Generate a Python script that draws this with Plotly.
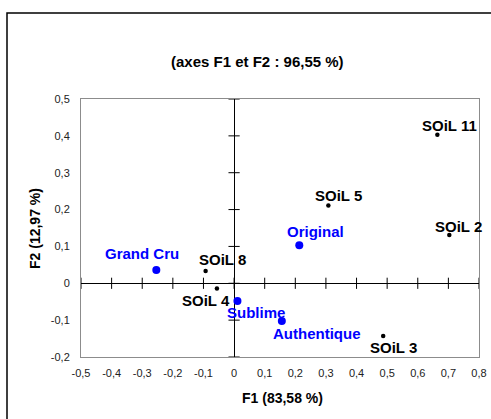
import plotly.graph_objects as go

# Observations (black)
soil_names = ["SOiL 11", "SOiL 5", "SOiL 2", "SOiL 8", "SOiL 4", "SOiL 3"]
soil_f1 = [0.664, 0.308, 0.703, -0.093, -0.056, 0.487]
soil_f2 = [0.403, 0.211, 0.131, 0.033, -0.014, -0.143]

# Products (blue)
prod_names = ["Original", "Grand Cru", "Sublime", "Authentique"]
prod_f1 = [0.213, -0.254, 0.011, 0.156]
prod_f2 = [0.103, 0.036, -0.048, -0.102]

# Label offsets in pixels (dx, dy)
soil_offsets = [(12, 9), (10, 10), (9, 9), (17, 12), (-11, -12), (10, -12)]
prod_offsets = [(16, 14), (-14, 17), (19, -12), (35, -13)]

x_ticks = [-0.5, -0.4, -0.3, -0.2, -0.1, 0, 0.1, 0.2, 0.3, 0.4, 0.5, 0.6, 0.7, 0.8]
x_tick_labels = ["-0,5", "-0,4", "-0,3", "-0,2", "-0,1", "0", "0,1", "0,2", "0,3", "0,4", "0,5", "0,6", "0,7", "0,8"]
y_ticks = [-0.2, -0.1, 0, 0.1, 0.2, 0.3, 0.4, 0.5]
y_tick_labels = ["-0,2", "-0,1", "0", "0,1", "0,2", "0,3", "0,4", "0,5"]

title_text = "(axes F1 et F2 : 96,55 %)"
x_title = "F1 (83,58 %)"
y_title = "F2 (12,97 %)"

FONT = "Liberation Sans, Arial, sans-serif"
W, H = 491, 419
ML, MR, MT, MB = 81, 12, 99, 62
PW, PH = W - ML - MR, H - MT - MB

def px_to_paper_x(px):
    return (px - ML) / PW

def px_to_paper_y(py):
    return (H - MB - py) / PH

fig = go.Figure()

# crossing tick marks on the zero axes
fig.add_trace(go.Scatter(
    x=x_ticks, y=[0] * len(x_ticks), mode="markers",
    marker=dict(symbol="line-ns", size=8, line=dict(color="black", width=1)),
    hoverinfo="skip", showlegend=False, cliponaxis=False))
fig.add_trace(go.Scatter(
    x=[0] * len(y_ticks), y=y_ticks, mode="markers",
    marker=dict(symbol="line-ew", size=8, line=dict(color="black", width=1)),
    hoverinfo="skip", showlegend=False, cliponaxis=False))

fig.add_trace(go.Scatter(
    x=soil_f1, y=soil_f2, mode="markers",
    marker=dict(color="black", size=4.5), showlegend=False, cliponaxis=False))
fig.add_trace(go.Scatter(
    x=prod_f1, y=prod_f2, mode="markers",
    marker=dict(color="#0000ff", size=8), showlegend=False, cliponaxis=False))

for n, x, y, (dx, dy) in zip(soil_names, soil_f1, soil_f2, soil_offsets):
    fig.add_annotation(x=x, y=y, text="<b>%s</b>" % n, showarrow=False,
                       xshift=dx, yshift=dy, xanchor="center", yanchor="middle",
                       font=dict(family=FONT, size=15, color="black"))
for n, x, y, (dx, dy) in zip(prod_names, prod_f1, prod_f2, prod_offsets):
    fig.add_annotation(x=x, y=y, text="<b>%s</b>" % n, showarrow=False,
                       xshift=dx, yshift=dy, xanchor="center", yanchor="middle",
                       font=dict(family=FONT, size=15, color="#0000ff"))

fig.add_annotation(xref="paper", yref="paper", x=px_to_paper_x(257), y=px_to_paper_y(62),
                   xanchor="center", yanchor="middle",
                   text="<b>%s</b>" % title_text, showarrow=False,
                   font=dict(family=FONT, size=15, color="black"))
fig.add_annotation(xref="paper", yref="paper", x=px_to_paper_x(282), y=px_to_paper_y(398),
                   xanchor="center", yanchor="middle",
                   text="<b>%s</b>" % x_title, showarrow=False,
                   font=dict(family=FONT, size=14, color="black"))
fig.add_annotation(xref="paper", yref="paper", x=px_to_paper_x(35), y=px_to_paper_y(229),
                   xanchor="center", yanchor="middle",
                   text="<b>%s</b>" % y_title, showarrow=False, textangle=-90,
                   font=dict(family=FONT, size=14, color="black"))

# outer chart border
fig.add_shape(type="rect", xref="paper", yref="paper",
              x0=px_to_paper_x(7), x1=px_to_paper_x(W + 20),
              y0=px_to_paper_y(H + 20), y1=px_to_paper_y(13),
              line=dict(color="black", width=1.5), layer="below")

fig.update_layout(
    width=W, height=H, autosize=False,
    margin=dict(l=ML, r=MR, t=MT, b=MB, pad=0, autoexpand=False),
    paper_bgcolor="white", plot_bgcolor="white",
    font=dict(family=FONT, size=11, color="#222"),
    xaxis=dict(range=[-0.5, 0.8], tickvals=x_ticks, ticktext=x_tick_labels,
               showgrid=False, zeroline=True, zerolinecolor="black", zerolinewidth=1,
               showline=True, mirror=True, linecolor="#8c8c8c", linewidth=1,
               automargin=False,
               ticks="", ticklabelstandoff=6, tickfont=dict(size=11)),
    yaxis=dict(range=[-0.2, 0.5], tickvals=y_ticks, ticktext=y_tick_labels,
               showgrid=False, zeroline=True, zerolinecolor="black", zerolinewidth=1,
               showline=True, mirror=True, linecolor="#8c8c8c", linewidth=1,
               automargin=False,
               ticks="", ticklabelstandoff=8, tickfont=dict(size=11)),
)

fig.write_html("out.html", config={"displayModeBar": False},
               post_script="document.body.style.margin='0';document.body.style.overflow='hidden';document.documentElement.style.overflow='hidden';")
